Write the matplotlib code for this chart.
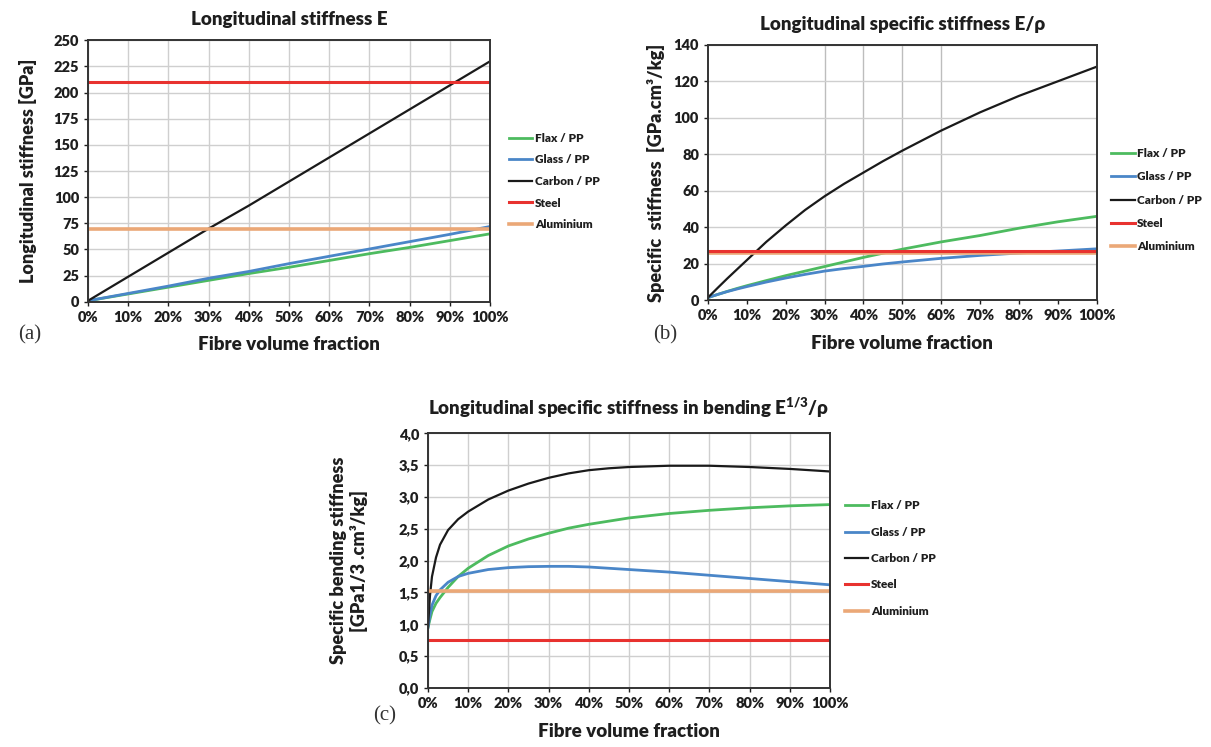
import matplotlib
matplotlib.use("Agg")
import matplotlib.pyplot as plt
from matplotlib.ticker import FuncFormatter

plt.rcParams['font.family'] = ['Lato', 'DejaVu Sans']
plt.rcParams['mathtext.default'] = 'regular'

W = 'heavy'

# fibre volume fraction (%)
vf = [0, 10, 20, 30, 40, 50, 60, 70, 80, 90, 100]
vf_b = [0, 2.5, 5, 7.5, 10, 15, 20, 25, 30, 35, 40, 45, 50, 60, 70, 80, 90, 100]
vf_c = [0, 0.5, 1, 2, 3, 5, 7.5, 10, 15, 20, 25, 30, 35, 40, 45, 50, 60, 70, 80, 90, 100]

labels = ['Flax / PP', 'Glass / PP', 'Carbon / PP', 'Steel', 'Aluminium']

# (a) longitudinal stiffness E [GPa]
flax_a = [1, 7.5, 14, 20.5, 27, 33, 39.5, 46, 52, 58.5, 65]
glass_a = [1, 8, 15, 22.5, 29, 36.5, 43.5, 50.5, 57.5, 64.5, 72]
carbon_a = [1, 24, 47, 70, 92, 115, 138, 161, 184, 207, 230]
steel_a = 210
alu_a = 70

# (b) specific stiffness E/rho
flax_b = [1.5, 3.2, 4.9, 6.5, 8, 10.8, 13.5, 16, 18.5, 21, 23.5, 25.8, 28, 32, 35.5, 39.5, 43, 46]
glass_b = [1.5, 3.2, 4.8, 6.2, 7.5, 10, 12.2, 14.2, 16, 17.4, 18.6, 19.9, 21, 23, 24.6, 25.9, 27, 28.2]
carbon_b = [1.5, 6.8, 12, 17, 22, 32, 41, 49.5, 57, 63.8, 70, 76.2, 82, 93, 103, 112, 120, 128]
steel_b = 26.9
alu_b = 25.9

# (c) specific bending stiffness E^(1/3)/rho
flax_c = [0.95, 1.08, 1.2, 1.33, 1.42, 1.58, 1.75, 1.88, 2.08, 2.23, 2.34, 2.43, 2.51, 2.57,
          2.62, 2.67, 2.74, 2.79, 2.83, 2.86, 2.88]
glass_c = [0.95, 1.15, 1.3, 1.45, 1.54, 1.66, 1.75, 1.8, 1.86, 1.89, 1.905, 1.91, 1.91, 1.9,
           1.88, 1.86, 1.82, 1.77, 1.72, 1.67, 1.62]
carbon_c = [0.95, 1.45, 1.75, 2.05, 2.25, 2.48, 2.65, 2.77, 2.96, 3.1, 3.21, 3.3, 3.37, 3.42,
            3.45, 3.47, 3.49, 3.49, 3.47, 3.44, 3.4]
steel_c = 0.76
alu_c = 1.53

green = '#4dbb5f'
blue = '#4a86c8'
black = '#1a1a1a'
red = '#e8322f'
orange = '#eba877'
txtc = '#1e1e1e'

fig = plt.figure(figsize=(12.11, 7.47), dpi=100)


def style(ax, ymax, ystep, yfmt):
    ax.set_xlim(0, 100)
    ax.set_ylim(0, ymax)
    ax.set_xticks(range(0, 101, 10))
    yt = []
    v = 0
    while v <= ymax + 1e-9:
        yt.append(v)
        v += ystep
    ax.set_yticks(yt)
    ax.xaxis.set_major_formatter(FuncFormatter(lambda x, p: '%d%%' % x))
    ax.yaxis.set_major_formatter(FuncFormatter(yfmt))
    for s in ax.spines.values():
        s.set_color('#333333')
        s.set_linewidth(1.4)
    ax.tick_params(labelsize=10.5, colors=txtc, length=3, width=1)
    for t in ax.get_xticklabels() + ax.get_yticklabels():
        t.set_fontweight(W)
    ax.set_xlabel('Fibre volume fraction', fontsize=13.5, fontweight=W, labelpad=9, color=txtc)


def draw(ax, x, f, g, c, st, al):
    h1, = ax.plot(x, f, color=green, lw=2, label=labels[0])
    h2, = ax.plot(x, g, color=blue, lw=2, label=labels[1])
    h3, = ax.plot(x, c, color=black, lw=1.6, label=labels[2])
    h5, = ax.plot([0, 100], [al, al], color=orange, lw=2.6, label=labels[4])
    h4, = ax.plot([0, 100], [st, st], color=red, lw=2.2, label=labels[3])
    return [h1, h2, h3, h4, h5]


def legend(ax, handles, anchor, spacing):
    leg = ax.legend(handles, labels, loc='upper left', bbox_to_anchor=anchor,
                    frameon=False, fontsize=8.5, handlelength=2.0, handletextpad=0.2,
                    labelspacing=spacing, borderaxespad=0)
    for t in leg.get_texts():
        t.set_fontweight(W)
        t.set_color(txtc)


# (a)
ax1 = fig.add_axes([0.0727, 0.596, 0.332, 0.35])
hs = draw(ax1, vf, flax_a, glass_a, carbon_a, steel_a, alu_a)
style(ax1, 250, 25, lambda y, p: '%d' % y)
ax1.grid(True, color='#cfcfcf', lw=1)
ax1.set_axisbelow(True)
ax1.set_ylabel('Longitudinal stiffness [GPa]', fontsize=13, fontweight=W, color=txtc, labelpad=12)
ax1.set_title('Longitudinal stiffness E', fontsize=13.5, fontweight=W, pad=11, color=txtc)
legend(ax1, hs, (1.035, 0.665), 0.9)

# (b)
ax2 = fig.add_axes([0.5846, 0.598, 0.321, 0.342])
hs = draw(ax2, vf_b, flax_b, glass_b, carbon_b, steel_b, alu_b)
style(ax2, 140, 20, lambda y, p: '%d' % y)
ax2.grid(True, axis='y', color='#cfcfcf', lw=1)
for xv in [30, 40, 50, 60]:
    ax2.axvline(xv, color='#bdbdbd', lw=1, zorder=0)
ax2.set_axisbelow(True)
ax2.set_ylabel('Specific  stiffness  [GPa.cm³/kg]', fontsize=13, fontweight=W, color=txtc, labelpad=6)
ax2.set_title('Longitudinal specific stiffness E/ρ', fontsize=13.5, fontweight=W, pad=11, color=txtc)
legend(ax2, hs, (1.025, 0.615), 1.05)

# (c)
ax3 = fig.add_axes([0.3534, 0.079, 0.332, 0.341])
hs = draw(ax3, vf_c, flax_c, glass_c, carbon_c, steel_c, alu_c)
style(ax3, 4.0, 0.5, lambda y, p: ('%.1f' % y).replace('.', ','))
ax3.grid(True, color='#cfcfcf', lw=1)
ax3.set_axisbelow(True)
ax3.set_ylabel('Specific bending stiffness\n[GPa1/3 .cm³/kg]', fontsize=13, fontweight=W,
               color=txtc, labelpad=22)
ax3.set_title('Longitudinal specific stiffness in bending E$^{1/3}$/ρ', fontsize=13.5,
              fontweight=W, pad=13, color=txtc)
legend(ax3, hs, (1.025, 0.755), 1.3)

for txt, x, y in [('(a)', 0.015, 0.545), ('(b)', 0.539, 0.545), ('(c)', 0.308, 0.035)]:
    fig.text(x, y, txt, fontsize=15, family=['Liberation Serif', 'DejaVu Serif'], color='#333333')

fig.savefig('out.png', dpi=100)
